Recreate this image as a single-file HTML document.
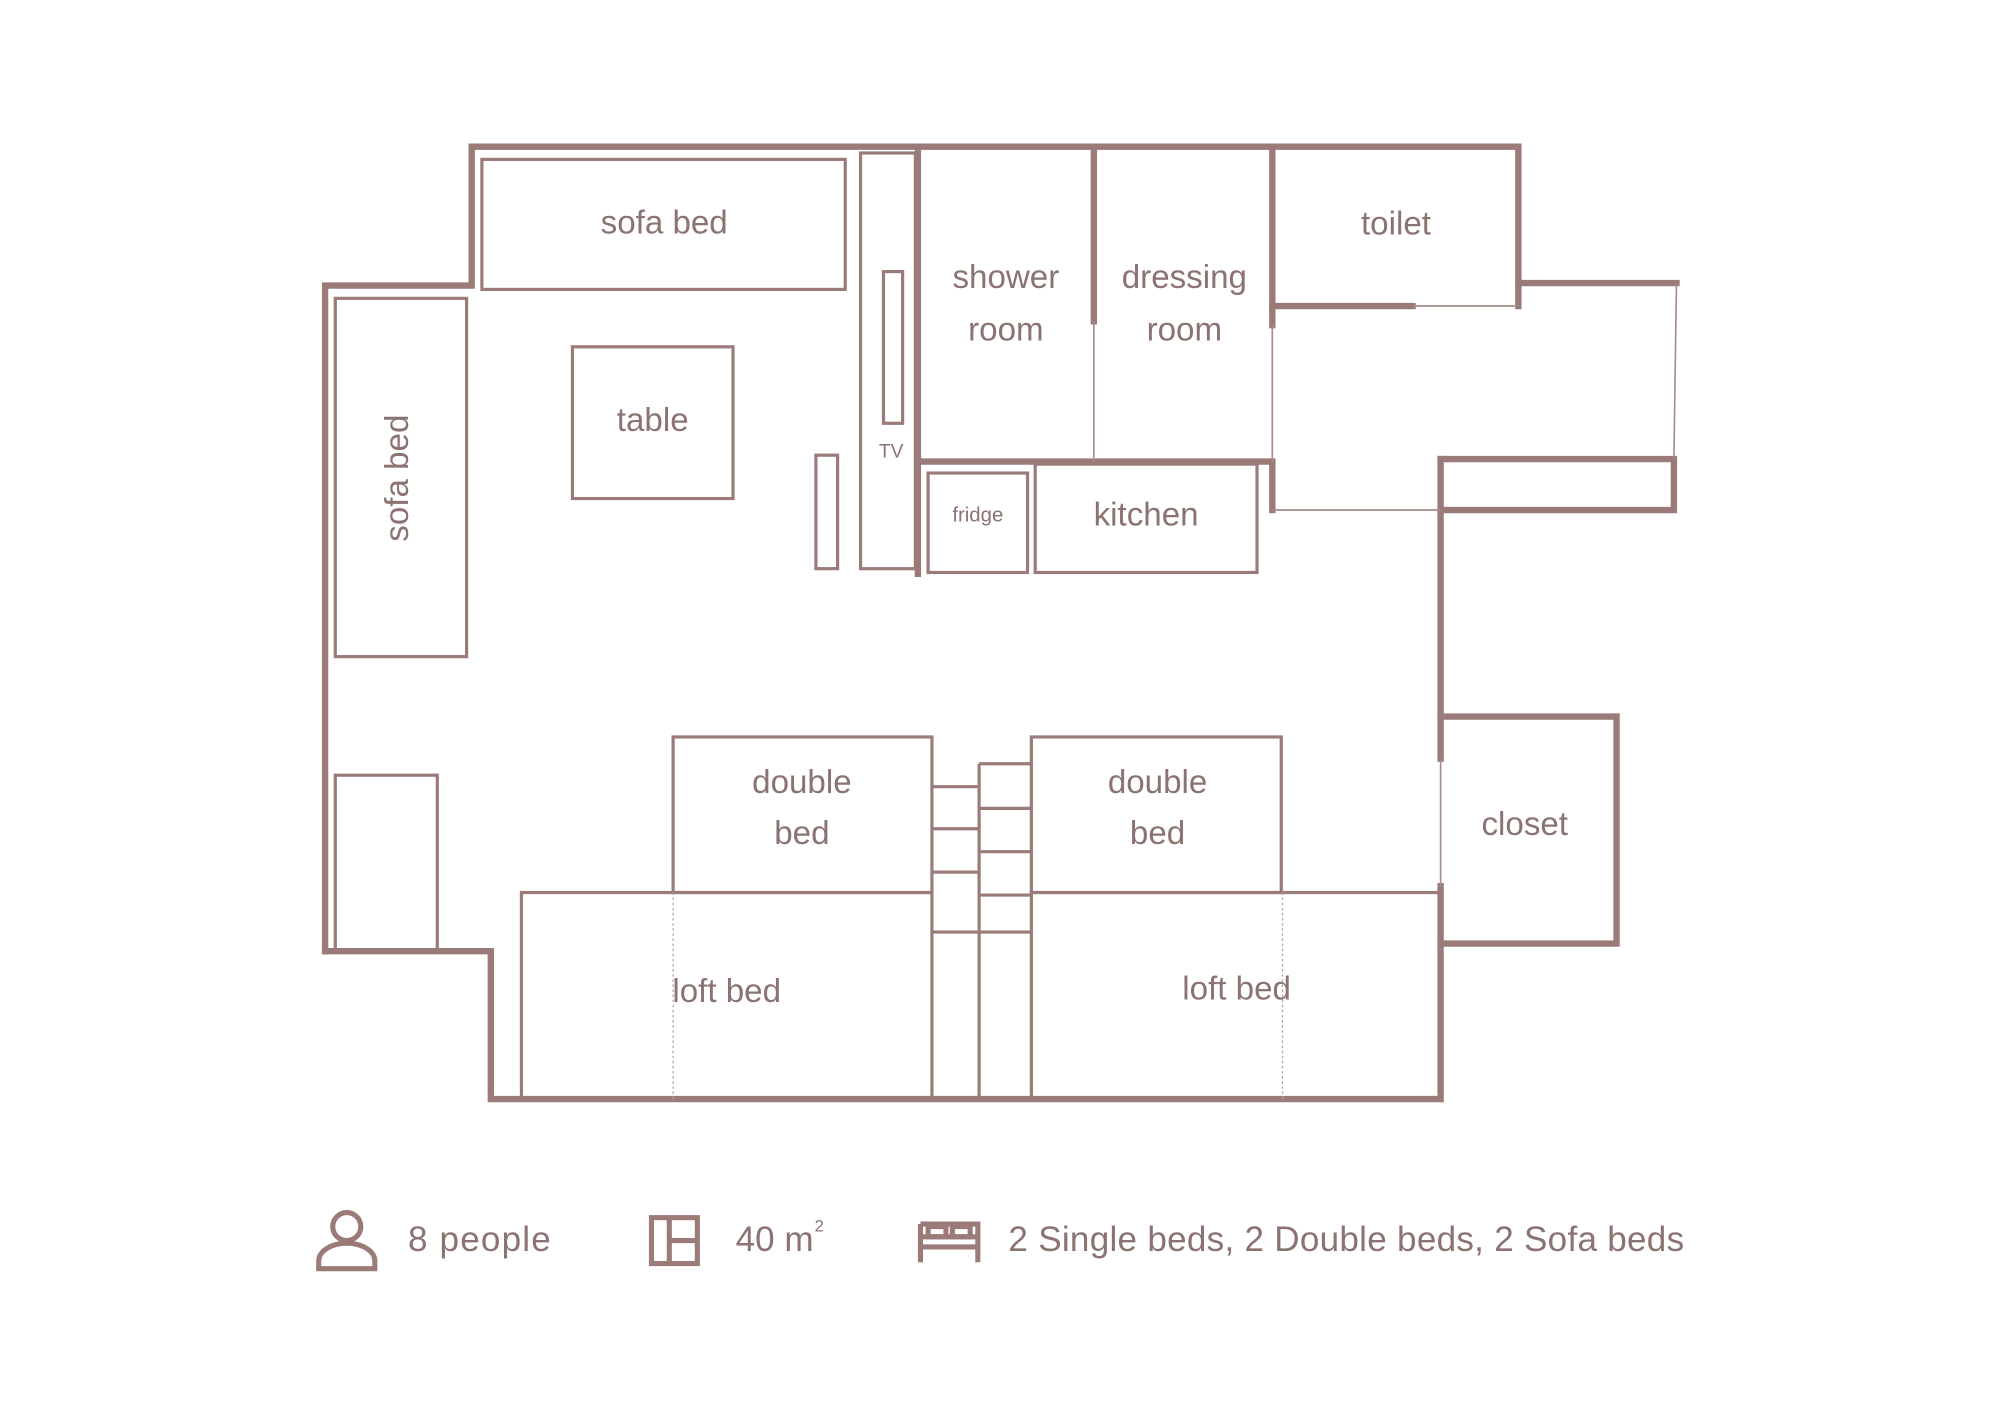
<!DOCTYPE html>
<html><head><meta charset="utf-8"><style>
html,body{margin:0;padding:0;background:#fff;}
svg{display:block;}
text{font-family:"Liberation Sans",sans-serif;fill:#8a7370;}
</style></head><body>
<svg width="1999" height="1414" viewBox="0 0 1568 1109" preserveAspectRatio="none" xmlns="http://www.w3.org/2000/svg">
<g fill="none" stroke="#9a7b78" stroke-width="5" stroke-linecap="square">
<polyline points="255,746 255,224 370,224 370,115 1191,115 1191,240"/>
<polyline points="1191,222 1315,222"/>
<polyline points="1130,360 1313,360 1313,400 1130,400"/>
<polyline points="1130,360 1130,595"/>
<polyline points="1130,562 1268,562 1268,740 1130,740"/>
<polyline points="1130,695 1130,862 385,862 385,746 255,746"/>
<line x1="720" y1="115" x2="720" y2="450"/>
<line x1="858" y1="115" x2="858" y2="252"/>
<line x1="998" y1="115" x2="998" y2="255"/>
<line x1="998" y1="240" x2="1108" y2="240"/>
<polyline points="720,362 998,362 998,400"/>
</g>
<g fill="none" stroke="#a58c89" stroke-width="1.3">
<line x1="1108" y1="240" x2="1191" y2="240"/>
<line x1="1315" y1="222" x2="1313" y2="360"/>
<line x1="858" y1="252" x2="858" y2="362"/>
<line x1="998" y1="255" x2="998" y2="362"/>
<line x1="998" y1="400" x2="1130" y2="400"/>
<line x1="1130" y1="595" x2="1130" y2="695"/>
</g>
<g fill="none" stroke="#9a7b78" stroke-width="2.5">
<rect x="378" y="125" width="285" height="102"/>
<rect x="263" y="234" width="103" height="281"/>
<rect x="449" y="272" width="126" height="119"/>
<rect x="640" y="357" width="17" height="89"/>
<rect x="675" y="120" width="43" height="326"/>
<rect x="693" y="213" width="15" height="119"/>
<rect x="728" y="371" width="78" height="78"/>
<rect x="812" y="364" width="174" height="85"/>
<rect x="263" y="608" width="80" height="137"/>
<rect x="528" y="578" width="203" height="122"/>
<rect x="809" y="578" width="196" height="122"/>
<rect x="409" y="700" width="322" height="162"/>
<rect x="809" y="700" width="321" height="162"/>
<line x1="768" y1="599" x2="768" y2="862"/>
<line x1="768" y1="599" x2="809" y2="599"/>
<line x1="731" y1="617" x2="768" y2="617"/>
<line x1="731" y1="650" x2="768" y2="650"/>
<line x1="731" y1="684" x2="768" y2="684"/>
<line x1="731" y1="731" x2="809" y2="731"/>
<line x1="768" y1="634" x2="809" y2="634"/>
<line x1="768" y1="668" x2="809" y2="668"/>
<line x1="768" y1="702" x2="809" y2="702"/>
</g>
<g stroke="#b8a5a3" stroke-width="1" stroke-dasharray="2,2">
<line x1="528" y1="700" x2="528" y2="862"/>
<line x1="1006" y1="700" x2="1006" y2="862"/>
</g>
<g font-size="26" text-anchor="middle">
<text x="521" y="183">sofa bed</text>
<text x="313" y="375" transform="rotate(-90 313 375)" dominant-baseline="middle">sofa bed</text>
<text x="512" y="338">table</text>
<text x="789" y="226">shower</text>
<text x="789" y="267">room</text>
<text x="929" y="226">dressing</text>
<text x="929" y="267">room</text>
<text x="1095" y="184">toilet</text>
<text x="899" y="412">kitchen</text>
<text x="767" y="409" font-size="16">fridge</text>
<text x="699" y="359" font-size="15">TV</text>
<text x="629" y="622">double</text>
<text x="629" y="662">bed</text>
<text x="908" y="622">double</text>
<text x="908" y="662">bed</text>
<text x="570" y="786">loft bed</text>
<text x="970" y="784">loft bed</text>
<text x="1196" y="655">closet</text>
</g>
<g fill="none" stroke="#9a7b78" stroke-width="4">
<circle cx="272" cy="962" r="11"/>
<path d="M250,995 v-6 a22,14 0 0 1 44,0 v6 z"/>
<rect x="511" y="955" width="36" height="36"/>
<line x1="525" y1="955" x2="525" y2="991"/>
<line x1="525" y1="973" x2="547" y2="973"/>
<path d="M722,990 v-30 M722,978 h45 M767,990 v-30 h-45 M722,970 h45"/>
<rect x="728" y="962" width="14" height="8"/>
<rect x="747" y="962" width="14" height="8"/>
</g>
<g font-size="27.5">
<text x="320" y="981" textLength="112">8 people</text>
<text x="577" y="981">40 m</text>
<text x="639" y="966" font-size="13">2</text>
<text x="791" y="981" textLength="530">2 Single beds, 2 Double beds, 2 Sofa beds</text>
</g>
</svg>
</body></html>
